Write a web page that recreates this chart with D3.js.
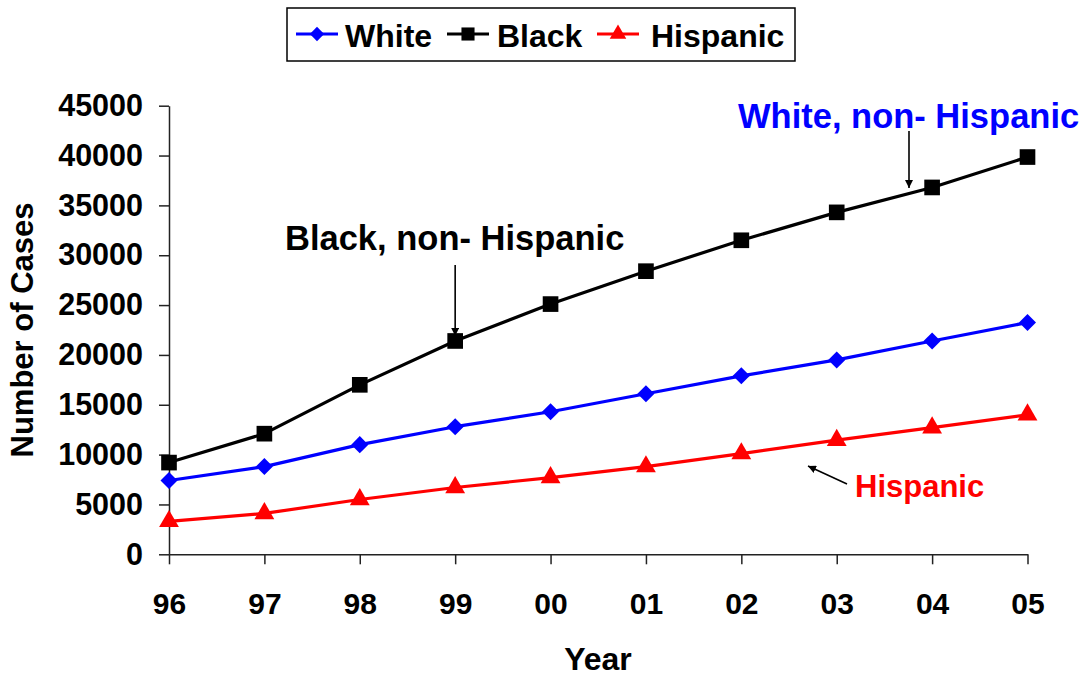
<!DOCTYPE html>
<html>
<head>
<meta charset="utf-8">
<script src="https://cdn.jsdelivr.net/npm/d3@7"></script>
<style>
  html, body { margin: 0; padding: 0; background: #fff; }
  svg { display: block; }
  text { font-family: "Liberation Sans", Arial, sans-serif; font-weight: bold; }
</style>
</head>
<body>
<svg id="chart" width="1086" height="676"></svg>
<script>
// Reported cases per year, by race/ethnicity
const years = ["96", "97", "98", "99", "00", "01", "02", "03", "04", "05"];
const white = [7400, 8800, 11000, 12800, 14300, 16100, 17900, 19500, 21400, 23250];
const black = [9200, 12100, 17000, 21400, 25100, 28400, 31500, 34300, 36800, 39850];
const hispanic = [3300, 4100, 5500, 6700, 7700, 8800, 10100, 11450, 12700, 14000];
const yTicks = [0, 5000, 10000, 15000, 20000, 25000, 30000, 35000, 40000, 45000];

const series = [
  { name: "White", values: white, color: "#0000FF", symbol: "diamond" },
  { name: "Black", values: black, color: "#000000", symbol: "square" },
  { name: "Hispanic", values: hispanic, color: "#FF0000", symbol: "triangle" }
];

const svg = d3.select("#chart");

const x = d3.scalePoint().domain(years).range([169, 1027.5]);
const y = d3.scaleLinear().domain([0, 45000]).range([554.3, 105.7]);

const axisColor = "#222";

// Y axis
const yAxis = svg.append("g")
  .attr("transform", `translate(${x(years[0])},0)`)
  .call(d3.axisLeft(y).tickValues(yTicks).tickSize(10).tickSizeOuter(0).tickPadding(16).tickFormat(d3.format("d")));
yAxis.select(".domain").attr("stroke", axisColor).attr("stroke-width", 1.5);
yAxis.selectAll(".tick line").attr("stroke", axisColor).attr("stroke-width", 1.5);
yAxis.selectAll(".tick text")
  .attr("font-size", 30.5).attr("fill", "#000")
  .attr("font-family", "Liberation Sans, Arial, sans-serif")
  .attr("font-weight", "bold");

// X axis
const xAxis = svg.append("g")
  .attr("transform", `translate(0,${y(0)})`)
  .call(d3.axisBottom(x).tickSize(10).tickSizeOuter(0).tickPadding(28));
xAxis.select(".domain").attr("stroke", axisColor).attr("stroke-width", 1.5);
xAxis.selectAll(".tick line").attr("stroke", axisColor).attr("stroke-width", 1.5);
xAxis.selectAll(".tick text")
  .attr("font-size", 30).attr("fill", "#000")
  .attr("font-family", "Liberation Sans, Arial, sans-serif")
  .attr("font-weight", "bold");

// Axis titles
svg.append("text")
  .attr("x", 598).attr("y", 670)
  .attr("text-anchor", "middle")
  .attr("font-size", 32)
  .text("Year");

svg.append("text")
  .attr("transform", "translate(33,330) rotate(-90)")
  .attr("text-anchor", "middle")
  .attr("font-size", 31)
  .text("Number of Cases");

// Marker shapes
const symbolSize = { diamond: 185, square: 245, triangle: 170 };
const symbolType = { diamond: d3.symbolDiamond2, square: d3.symbolSquare, triangle: d3.symbolTriangle };
function symbolPath(kind, k = 1) {
  return d3.symbol().type(symbolType[kind]).size(symbolSize[kind] * k)();
}

// Lines and markers
const line = d3.line().x((d, i) => x(years[i])).y(d => y(d));
series.forEach(s => {
  svg.append("path")
    .datum(s.values)
    .attr("fill", "none")
    .attr("stroke", s.color)
    .attr("stroke-width", 3.2)
    .attr("stroke-linejoin", "round")
    .attr("d", line);
  svg.append("g").selectAll("path")
    .data(s.values)
    .join("path")
    .attr("transform", (d, i) => `translate(${x(years[i])},${y(d)})`)
    .attr("d", symbolPath(s.symbol))
    .attr("fill", s.color);
});

// Legend
const legend = svg.append("g");
legend.append("rect")
  .attr("x", 287).attr("y", 8).attr("width", 508).attr("height", 53)
  .attr("fill", "#fff").attr("stroke", "#000").attr("stroke-width", 1.5);
const legendItems = [
  { s: series[0], x0: 296, tx: 345 },
  { s: series[1], x0: 447, tx: 497 },
  { s: series[2], x0: 597, tx: 651 }
];
legendItems.forEach(it => {
  legend.append("line")
    .attr("x1", it.x0).attr("x2", it.x0 + 42)
    .attr("y1", 34).attr("y2", 34)
    .attr("stroke", it.s.color).attr("stroke-width", 3.2);
  legend.append("path")
    .attr("transform", `translate(${it.x0 + 21},34)`)
    .attr("d", symbolPath(it.s.symbol, 0.7))
    .attr("fill", it.s.color);
  legend.append("text")
    .attr("x", it.tx).attr("y", 46.5)
    .attr("font-size", 32)
    .attr("fill", "#000")
    .text(it.s.name);
});

// Annotations
const defs = svg.append("defs");
defs.append("marker")
  .attr("id", "arrowhead")
  .attr("viewBox", "0 0 10 10")
  .attr("refX", 10).attr("refY", 5)
  .attr("markerWidth", 5).attr("markerHeight", 5)
  .attr("markerUnits", "strokeWidth")
  .attr("orient", "auto")
  .append("path")
  .attr("d", "M0,0 L10,5 L0,10 Z")
  .attr("fill", "#000");

svg.append("text")
  .attr("x", 285).attr("y", 250)
  .attr("font-size", 34.5)
  .attr("fill", "#000")
  .text("Black, non- Hispanic");
svg.append("line")
  .attr("x1", x("99")).attr("y1", 265)
  .attr("x2", x("99")).attr("y2", 336)
  .attr("stroke", "#000").attr("stroke-width", 1.6)
  .attr("marker-end", "url(#arrowhead)");

svg.append("text")
  .attr("x", 738).attr("y", 128)
  .attr("font-size", 34.5)
  .attr("fill", "#0000FF")
  .text("White, non- Hispanic");
svg.append("line")
  .attr("x1", 909).attr("y1", 131)
  .attr("x2", 909).attr("y2", 188)
  .attr("stroke", "#000").attr("stroke-width", 1.6)
  .attr("marker-end", "url(#arrowhead)");

svg.append("text")
  .attr("x", 855).attr("y", 497)
  .attr("font-size", 31)
  .attr("fill", "#FF0000")
  .text("Hispanic");
svg.append("line")
  .attr("x1", 847).attr("y1", 484)
  .attr("x2", 808).attr("y2", 466)
  .attr("stroke", "#000").attr("stroke-width", 1.6)
  .attr("marker-end", "url(#arrowhead)");
</script>
</body>
</html>
